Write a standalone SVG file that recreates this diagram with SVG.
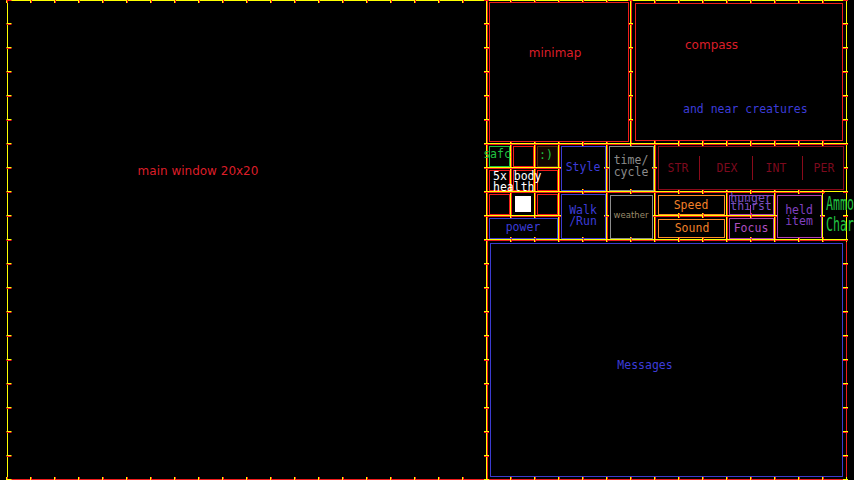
<svg xmlns="http://www.w3.org/2000/svg" width="854" height="480" viewBox="0 0 854 480">
<style>
.yl{stroke:#ffff00;stroke-width:1;fill:none}
.ty{stroke:#ffff00;stroke-width:5;stroke-dasharray:1 23;fill:none}
.tr{stroke:#ff1c1c;stroke-width:5;stroke-dasharray:1 23;fill:none}
.ro{stroke:#f01c1c;stroke-width:1;fill:none}
.ri{stroke:#f01c1c;stroke-width:1;fill:none}
.bi{stroke:#3c3cd0;stroke-width:1;fill:none}
.gi{stroke:#8c8c8c;stroke-width:1;fill:none}
.oi{stroke:#ff8c28;stroke-width:1;fill:none}
.pi{stroke:#b040b0;stroke-width:1;fill:none}
.ni{stroke:#20c040;stroke-width:1;fill:none}
.di{stroke:#8a0a1a;stroke-width:1;fill:none}
.m{font-family:"DejaVu Sans Mono","Liberation Mono",monospace;font-size:11.5px;text-anchor:middle}
.ms{font-family:"DejaVu Sans Mono","Liberation Mono",monospace;font-size:11.5px;text-anchor:start}
.s{font-family:"DejaVu Sans","Liberation Sans",sans-serif;font-size:12px}
.red{fill:#dc1e28}
.blue{fill:#3c3cd8}
</style>
<rect width="854" height="480" fill="#000"/>

<g id="outlines">
<path class="ro" d="M486.5 0 V479.5 H7"/>
<rect class="ro" x="487.5" y="0.5" width="143" height="143"/>
<rect class="ro" x="631.5" y="0.5" width="215" height="143"/>
<rect class="ro" x="487.5" y="144.5" width="23" height="23"/>
<rect class="ro" x="511.5" y="144.5" width="23" height="23"/>
<rect class="ro" x="535.5" y="144.5" width="23" height="23"/>
<rect class="ro" x="487.5" y="168.5" width="23" height="23"/>
<rect class="ro" x="511.5" y="168.5" width="23" height="23"/>
<rect class="ro" x="535.5" y="168.5" width="23" height="23"/>
<rect class="ro" x="487.5" y="192.5" width="23" height="23"/>
<rect class="ro" x="511.5" y="192.5" width="23" height="23"/>
<rect class="ro" x="535.5" y="192.5" width="23" height="23"/>
<rect class="ro" x="487.5" y="216.5" width="71" height="23"/>
<rect class="ro" x="559.5" y="144.5" width="47" height="47"/>
<rect class="ro" x="607.5" y="144.5" width="47" height="47"/>
<rect class="ro" x="655.5" y="144.5" width="191" height="47"/>
<rect class="ro" x="559.5" y="192.5" width="47" height="47"/>
<rect class="ro" x="607.5" y="192.5" width="47" height="47"/>
<rect class="ro" x="655.5" y="192.5" width="71" height="23"/>
<rect class="ro" x="655.5" y="216.5" width="71" height="23"/>
<rect class="ro" x="727.5" y="192.5" width="47" height="23"/>
<rect class="ro" x="727.5" y="216.5" width="47" height="23"/>
<rect class="ro" x="775.5" y="192.5" width="47" height="47"/>
<rect class="ro" x="487.5" y="240.5" width="359" height="239"/>
</g>

<g id="grid">
<line class="yl" x1="7" y1="0.5" x2="847" y2="0.5"/>
<line class="yl" x1="486" y1="143.5" x2="847" y2="143.5"/>
<line class="yl" x1="486" y1="167.5" x2="559" y2="167.5"/>
<line class="yl" x1="486" y1="191.5" x2="847" y2="191.5"/>
<line class="yl" x1="486" y1="215.5" x2="559" y2="215.5"/>
<line class="yl" x1="654" y1="215.5" x2="775" y2="215.5"/>
<line class="yl" x1="486" y1="239.5" x2="847" y2="239.5"/>
<line class="yl" x1="7.5" y1="0" x2="7.5" y2="480"/>
<line class="yl" x1="486.5" y1="0" x2="486.5" y2="480"/>
<line class="yl" x1="510.5" y1="143" x2="510.5" y2="216"/>
<line class="yl" x1="534.5" y1="143" x2="534.5" y2="216"/>
<line class="yl" x1="558.5" y1="143" x2="558.5" y2="240"/>
<line class="yl" x1="606.5" y1="143" x2="606.5" y2="240"/>
<line class="yl" x1="630.5" y1="0" x2="630.5" y2="144"/>
<line class="yl" x1="654.5" y1="143" x2="654.5" y2="240"/>
<line class="yl" x1="726.5" y1="191" x2="726.5" y2="240"/>
<line class="yl" x1="774.5" y1="191" x2="774.5" y2="240"/>
<line class="yl" x1="822.5" y1="191" x2="822.5" y2="240"/>
<line class="yl" x1="846.5" y1="0" x2="846.5" y2="240"/>
</g>

<g id="ticks">
<line class="ty" x1="6" y1="0.5" x2="847" y2="0.5"/><line class="tr" x1="7" y1="0.5" x2="847" y2="0.5"/>
<line class="ty" x1="486" y1="143.5" x2="847" y2="143.5"/><line class="tr" x1="487" y1="143.5" x2="847" y2="143.5"/>
<line class="ty" x1="486" y1="167.5" x2="559" y2="167.5"/><line class="tr" x1="487" y1="167.5" x2="559" y2="167.5"/>
<line class="ty" x1="486" y1="191.5" x2="847" y2="191.5"/><line class="tr" x1="487" y1="191.5" x2="847" y2="191.5"/>
<line class="ty" x1="486" y1="215.5" x2="559" y2="215.5"/><line class="tr" x1="487" y1="215.5" x2="559" y2="215.5"/>
<line class="ty" x1="654" y1="215.5" x2="775" y2="215.5"/><line class="tr" x1="655" y1="215.5" x2="775" y2="215.5"/>
<line class="ty" x1="486" y1="239.5" x2="847" y2="239.5"/><line class="tr" x1="487" y1="239.5" x2="847" y2="239.5"/>
<line class="ty" x1="6" y1="479.5" x2="847" y2="479.5"/><line class="tr" x1="7" y1="479.5" x2="847" y2="479.5"/>
<line class="ty" x1="9" y1="-1" x2="9" y2="480"/><line class="tr" x1="9" y1="0" x2="9" y2="480"/>
<line class="ty" x1="486.5" y1="-1" x2="486.5" y2="480"/><line class="tr" x1="486.5" y1="0" x2="486.5" y2="480"/>
<line class="ty" x1="510.5" y1="143" x2="510.5" y2="216"/><line class="tr" x1="510.5" y1="144" x2="510.5" y2="216"/>
<line class="ty" x1="534.5" y1="143" x2="534.5" y2="216"/><line class="tr" x1="534.5" y1="144" x2="534.5" y2="216"/>
<line class="ty" x1="558.5" y1="143" x2="558.5" y2="240"/><line class="tr" x1="558.5" y1="144" x2="558.5" y2="240"/>
<line class="ty" x1="606.5" y1="143" x2="606.5" y2="240"/><line class="tr" x1="606.5" y1="144" x2="606.5" y2="240"/>
<line class="ty" x1="630.5" y1="-1" x2="630.5" y2="144"/><line class="tr" x1="630.5" y1="0" x2="630.5" y2="144"/>
<line class="ty" x1="654.5" y1="143" x2="654.5" y2="240"/><line class="tr" x1="654.5" y1="144" x2="654.5" y2="240"/>
<line class="ty" x1="726.5" y1="191" x2="726.5" y2="240"/><line class="tr" x1="726.5" y1="192" x2="726.5" y2="240"/>
<line class="ty" x1="774.5" y1="191" x2="774.5" y2="240"/><line class="tr" x1="774.5" y1="192" x2="774.5" y2="240"/>
<line class="ty" x1="822.5" y1="191" x2="822.5" y2="240"/><line class="tr" x1="822.5" y1="192" x2="822.5" y2="240"/>
<line class="ty" x1="845.5" y1="-1" x2="845.5" y2="480"/><line class="tr" x1="845.5" y1="0" x2="845.5" y2="480"/>
</g>

<g id="main-window">
<text class="s red" x="198" y="175" text-anchor="middle">main window 20x20</text>
</g>

<g id="minimap">
<rect class="ri" x="489.5" y="2.5" width="139" height="139"/>
<text class="s red" x="555" y="57" text-anchor="middle" font-size="12.5">minimap</text>
</g>

<g id="compass">
<rect class="ri" x="635.5" y="3.5" width="207" height="137"/>
<text class="s red" x="685" y="49">compass</text>
<text class="ms blue" x="683" y="113">and near creatures</text>
</g>

<g id="safc">
<rect class="ni" x="489.5" y="146.5" width="20" height="20"/>
<text class="m" x="497" y="158" font-size="9.5" fill="#20c040">safc</text>
</g>
<g id="cell-1"><rect class="ri" x="513.5" y="146.5" width="20" height="20"/></g>
<g id="smiley">
<rect x="537.5" y="146.5" width="20" height="20" fill="#120600" stroke="#5a2a10"/>
<text class="m" x="546" y="159" fill="#20c040">:)</text>
</g>
<g id="cell-5x"><rect class="ri" x="489.5" y="170.5" width="20" height="20"/></g>
<g id="cell-body"><rect class="ri" x="513.5" y="170.5" width="20" height="20"/></g>
<g id="cell-2"><rect class="ri" x="537.5" y="170.5" width="20" height="20"/></g>
<g id="cell-3"><rect class="ri" x="489.5" y="194.5" width="20" height="20"/></g>
<g id="cell-white">
<rect x="515" y="196" width="16" height="16" fill="#ffffff"/>
</g>
<g id="cell-4"><rect class="ri" x="537.5" y="194.5" width="20" height="20"/></g>
<g id="body-health">
<text class="ms" x="493" y="180" fill="#ffffff">5x body</text>
<text class="ms" x="493" y="190.5" fill="#ffffff">health</text>
</g>

<g id="power">
<rect class="bi" x="489.5" y="218.5" width="68" height="20"/>
<text class="m blue" x="523" y="231">power</text>
</g>

<g id="style">
<rect class="bi" x="561.5" y="146.5" width="44" height="44"/>
<text class="m blue" x="583" y="171">Style</text>
</g>

<g id="time-cycle">
<rect class="gi" x="609.5" y="146.5" width="44" height="44"/>
<text class="m" x="631" y="164" fill="#8c8c8c">time/</text>
<text class="m" x="631" y="176" fill="#8c8c8c">cycle</text>
</g>

<g id="stats">
<rect class="di" x="658.5" y="146.5" width="185" height="43"/>
<line class="di" x1="699.5" y1="156" x2="699.5" y2="180"/>
<line class="di" x1="752.5" y1="156" x2="752.5" y2="180"/>
<line class="di" x1="802.5" y1="156" x2="802.5" y2="180"/>
<text class="m" x="678" y="172" fill="#7c0a1e">STR</text>
<text class="m" x="727" y="172" fill="#7c0a1e">DEX</text>
<text class="m" x="776" y="172" fill="#7c0a1e">INT</text>
<text class="m" x="824" y="172" fill="#7c0a1e">PER</text>
</g>

<g id="walk-run">
<rect class="bi" x="561.5" y="194.5" width="44" height="44"/>
<text class="m blue" x="583" y="214">Walk</text>
<text class="m blue" x="583" y="225">/Run</text>
</g>

<g id="weather">
<rect class="gi" x="610.5" y="195.5" width="42" height="43"/>
<text x="631" y="218" font-family="DejaVu Sans, sans-serif" font-size="8.5" text-anchor="middle" fill="#9a8a6a">weather</text>
</g>

<g id="speed">
<rect class="oi" x="658.5" y="195.5" width="66" height="19"/>
<text class="m" x="691" y="208.5" fill="#f08028">Speed</text>
</g>

<g id="sound">
<rect class="oi" x="658.5" y="219.5" width="66" height="18"/>
<text class="m" x="692" y="232" fill="#f08028">Sound</text>
</g>

<g id="hunger-thirst">
<rect class="pi" x="729.5" y="195.5" width="44" height="19"/>
<line class="pi" x1="750.5" y1="205" x2="750.5" y2="214"/>
<text class="m" x="751" y="202" font-size="7.5" fill="#7a50c0">hunger</text>
<text class="m" x="751" y="209.5" font-size="7.5" fill="#7a50c0">thirst</text>
</g>

<g id="focus">
<rect class="pi" x="729.5" y="218.5" width="44" height="20"/>
<text class="m" x="751" y="232" fill="#b050c0">Focus</text>
</g>

<g id="held-item">
<rect class="pi" x="777.5" y="195.5" width="44" height="42"/>
<text class="m" x="799" y="214" fill="#8040c0">held</text>
<text class="m" x="799" y="224.5" fill="#8040c0">item</text>
</g>

<g id="ammo-char">
<text transform="translate(826 210) scale(0.58 1)" font-family="DejaVu Sans Mono, monospace" font-size="20" fill="#20c040">Ammo</text>
<text transform="translate(826 231) scale(0.58 1)" font-family="DejaVu Sans Mono, monospace" font-size="20" fill="#20c040">Char</text>
</g>

<g id="messages">
<rect class="bi" x="490.5" y="243.5" width="352" height="233"/>
<text class="m blue" x="645" y="369">Messages</text>
</g>
</svg>
